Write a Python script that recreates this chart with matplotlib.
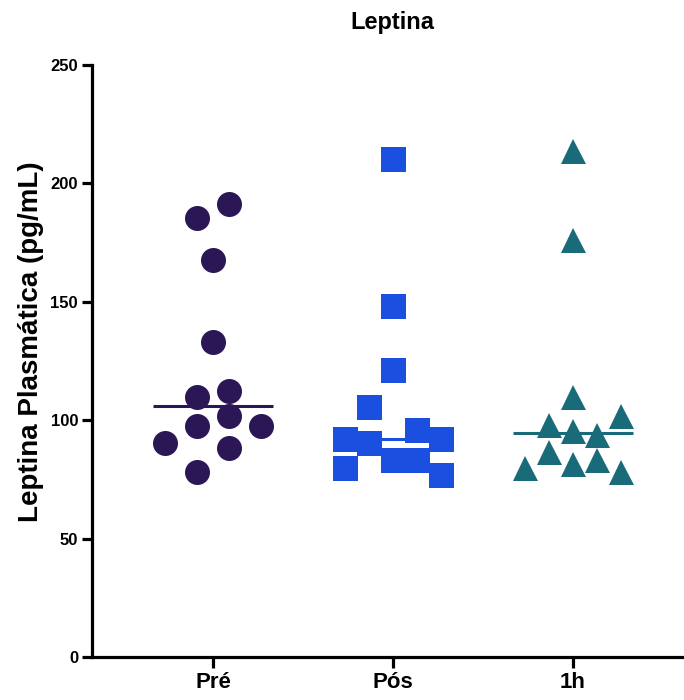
import numpy as np
import matplotlib
matplotlib.use("Agg")
import matplotlib.pyplot as plt

# ---- data ----
groups = ["Pré", "Pós", "1h"]

pre_vals = [191.3, 185.2, 167.5, 133.0, 109.8, 112.3, 101.8, 97.6, 97.6, 90.4, 88.3, 78.1]
pos_vals = [210.3, 148.4, 121.2, 105.7, 92.2, 79.7, 90.3, 83.2, 83.2, 95.8, 92.2, 76.9]
h1_vals = [213.8, 176.0, 110.0, 97.8, 101.8, 95.6, 93.8, 86.6, 83.0, 81.5, 79.7, 78.1]

# ---- layout: horizontal spread of each point (in columns) ----
pre_cols = [0.5, -0.5, 0, 0, -0.5, 0.5, 0.5, -0.5, 1.5, -1.5, 0.5, -0.5]
pos_cols = [0, 0, 0, -1, -2, -2, -1, 0, 1, 1, 2, 2]
h1_cols = [0, 0, 0, -1, 2, 0, 1, -1, 1, 0, -2, 2]

col_step = [0.178, 0.133, 0.133]
markers = ["o", "s", "^"]
msizes = [18, 18, 18]
colors = ["#2b1656", "#1b4fe0", "#1a6b79"]

plt.rcParams["font.family"] = ["Liberation Sans", "DejaVu Sans"]
plt.rcParams["font.weight"] = "bold"

fig = plt.figure(figsize=(6.84, 7.0), dpi=100)
ax = fig.add_axes([92 / 684, 1 - 657 / 700, 1 - 92 / 684, (657 - 65) / 700])

all_vals = [pre_vals, pos_vals, h1_vals]
all_cols = [pre_cols, pos_cols, h1_cols]
for i, (vals, cols) in enumerate(zip(all_vals, all_cols)):
    xpos = i + 1 + np.array(cols) * col_step[i]
    ax.plot(xpos, vals, linestyle="none", marker=markers[i], ms=msizes[i],
            color=colors[i], markeredgewidth=0, zorder=3, clip_on=False)
    med = np.median(vals)
    ax.plot([i + 1 - 0.335, i + 1 + 0.335], [med, med], color=colors[i],
            lw=2.2, solid_capstyle="butt", zorder=4)

ax.set_xlim(1 - 121 / 180, 1 + (684 - 213) / 180)
ax.set_ylim(0, 250)
ax.set_yticks([0, 50, 100, 150, 200, 250])
ax.set_xticks([1, 2, 3])
ax.set_xticklabels(groups)

for side in ["top", "right"]:
    ax.spines[side].set_visible(False)
for side in ["left", "bottom"]:
    ax.spines[side].set_linewidth(2.3)
    ax.spines[side].set_color("black")
    ax.spines[side].set_capstyle("projecting")

ax.tick_params(axis="y", length=7.5, width=2.3, labelsize=12, pad=2.5)
ax.tick_params(axis="x", length=8, width=2.3, labelsize=16, pad=3)
for lab in ax.get_xticklabels() + ax.get_yticklabels():
    lab.set_fontweight("bold")

fig.text(392 / 684, 1 - 23 / 700, "Leptina", ha="center", va="center",
         fontsize=17, fontweight="bold")
fig.text(31 / 684, 1 - 342 / 700, "Leptina Plasmática (pg/mL)", ha="center",
         va="center", rotation=90, fontsize=20, fontweight="bold")

fig.savefig("out.png", dpi=100)
